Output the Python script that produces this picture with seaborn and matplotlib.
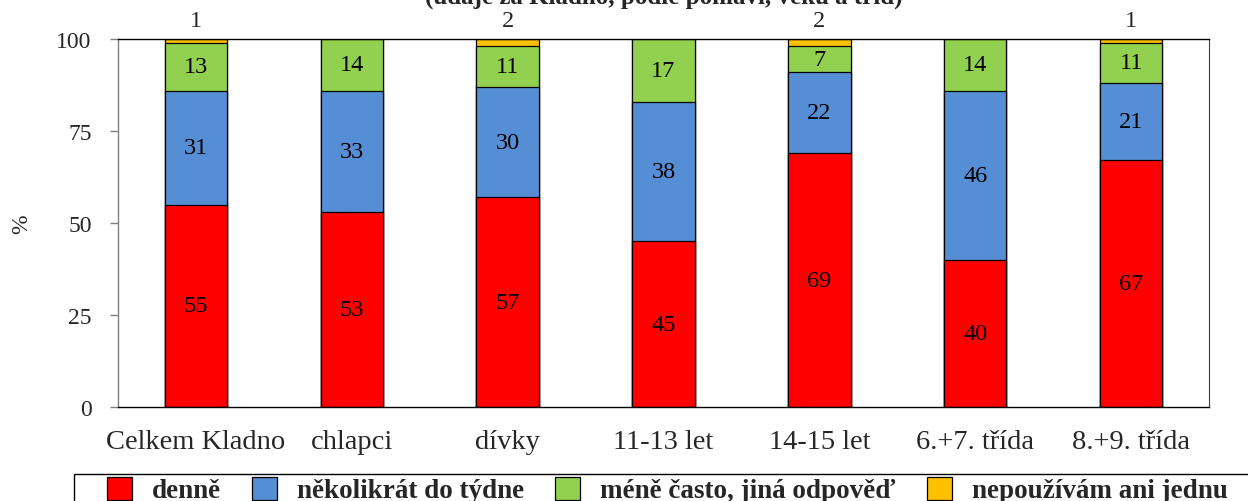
import matplotlib
matplotlib.use("Agg")
import matplotlib.pyplot as plt
from matplotlib.patches import Patch, Rectangle
import numpy as np
import seaborn as sns

# Categories and series (percent)
categories = ["Celkem Kladno", "chlapci", "dívky", "11-13 let", "14-15 let", "6.+7. třída", "8.+9. třída"]
denne = [55, 53, 57, 45, 69, 40, 67]
nekolikrat = [31, 33, 30, 38, 22, 46, 21]
mene_casto = [13, 14, 11, 17, 7, 14, 11]
nepouzivam = [1, 0, 2, 0, 2, 0, 1]

series_names = ["denně", "několikrát do týdne", "méně často, jiná odpověď", "nepoužívám ani jednu"]
series_colors = ["#FF0000", "#558ED5", "#92D050", "#FFC000"]
y_ticks = [0, 25, 50, 75, 100]
title_text = "(údaje za Kladno, podle pohlaví, věku a tříd)"

sns.set_style("white")
plt.rcParams["font.family"] = ["Liberation Serif", "DejaVu Serif"]

W, H = 1248, 502
fig = plt.figure(figsize=(W / 100, H / 100), dpi=100)
ax = fig.add_axes([118 / W, 94 / H, 1091 / W, 368 / H])

layers = [denne, nekolikrat, mene_casto, nepouzivam]
cum = np.cumsum(np.array(layers, dtype=float), axis=0)

# Stacked bars: draw cumulative totals from the top layer down
for k in range(len(layers) - 1, -1, -1):
    sns.barplot(x=categories, y=cum[k], order=categories, color=series_colors[k],
                saturation=1, width=0.4, edgecolor="black", linewidth=0.9,
                errorbar=None, ax=ax)

# Value labels inside the first three segments
for k in range(3):
    for i, v in enumerate(layers[k]):
        mid = cum[k][i] - v / 2
        ax.text(i, mid, f"{v}", ha="center", va="center", fontsize=17.5, color="black")

# Labels for the top segment, placed above the plot area
for i, v in enumerate(nepouzivam):
    if v > 0:
        ax.annotate(f"{v}", xy=(i, 100), xytext=(0, 13), textcoords="offset points",
                    ha="center", va="center", fontsize=17.5, annotation_clip=False)

ax.set_xlim(-0.5, len(categories) - 0.5)
ax.set_ylim(0, 100)
ax.set_yticks(y_ticks)
ax.set_yticklabels([str(t) for t in y_ticks], fontsize=17)
ax.set_xlabel("")
ax.set_ylabel("")

# Category boundary ticks on the x axis
ax.set_xticks(np.arange(len(categories)))
ax.set_xticklabels(categories, fontsize=20.5)
ax.set_xticks(np.arange(-0.5, len(categories)), minor=True)
ax.tick_params(axis="x", which="major", length=0, pad=16)
ax.tick_params(axis="x", which="minor", length=5, width=1, color="#808080", direction="out")
ax.tick_params(axis="y", which="major", length=6, width=1, color="#808080", direction="out", left=True, pad=13)

for side in ["top", "bottom"]:
    ax.spines[side].set_color("black")
    ax.spines[side].set_linewidth(1)
ax.spines["left"].set_color("#808080")
ax.spines["left"].set_linewidth(1)
ax.spines["right"].set_color("#404040")
ax.spines["right"].set_linewidth(0.8)
for s in ax.spines.values():
    s.set_visible(True)

fig.text(22 / W, 1 - 224 / H, "%", rotation=90, ha="center", va="center", fontsize=17)
fig.text(664 / W, 1 - 4 / H, title_text, ha="center", va="baseline", fontsize=18, fontweight="bold")

# Legend along the bottom edge with its own frame
handles = [Patch(facecolor=c, edgecolor="black", linewidth=0.9, label=n)
           for n, c in zip(series_names, series_colors)]
fig.legend(handles=handles, loc="center left", bbox_to_anchor=(107 / W, 1 - 491 / H),
           ncol=4, frameon=False, prop=dict(family="Liberation Serif", weight="bold", size=19.5),
           handlelength=0.92, handleheight=0.95, handletextpad=0.74, columnspacing=1.15,
           borderpad=0, borderaxespad=0)
fig.add_artist(Rectangle((74 / W, -0.1), 1.2, 0.1 + (H - 475) / H, transform=fig.transFigure,
                         fill=False, edgecolor="black", linewidth=1))

fig.savefig("out.png", dpi=100)
